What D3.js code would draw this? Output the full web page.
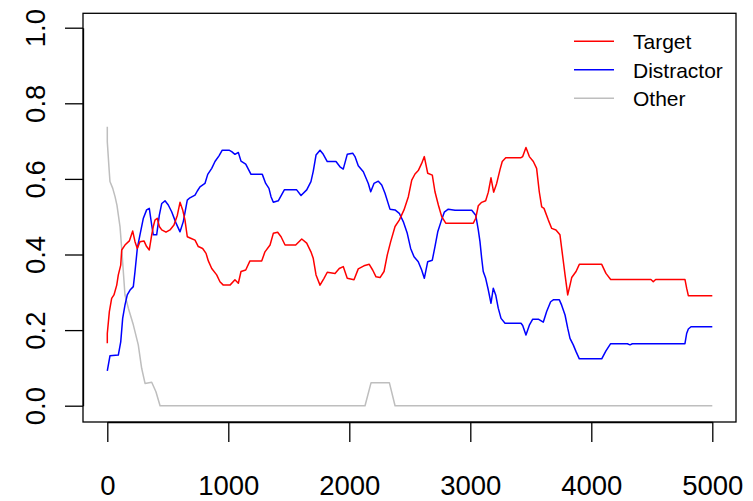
<!DOCTYPE html>
<html>
<head>
<meta charset="utf-8">
<script src="https://cdn.jsdelivr.net/npm/d3@7"></script>
<style>
  html, body { margin: 0; padding: 0; background: #fff; }
  svg { display: block; }
  text { font-family: "Liberation Sans", Arial, sans-serif; fill: #000; }
</style>
</head>
<body>
<svg id="chart" width="753" height="501"></svg>
<script>
// Proportion of looks to each picture over time (ms)
const targetTime = [0,0,17,36,55,78,91,111,119,146,182,210,229,248,270,303,325,347,367,380,394,413,430,450,485,518,551,579,601,623,642,661,689,725,752,788,816,835,863,904,931,959,1014,1055,1083,1105,1144,1179,1276,1303,1345,1372,1408,1436,1469,1557,1607,1648,1683,1702,1725,1758,1791,1818,1882,1917,1950,1983,2039,2074,2121,2165,2193,2221,2254,2287,2314,2342,2378,2413,2452,2488,2516,2543,2570,2598,2620,2648,2686,2708,2736,2764,2797,3025,3045,3066,3094,3127,3149,3171,3193,3218,3245,3264,3293,3419,3433,3460,3488,3521,3548,3570,3590,3609,3645,3673,3708,3741,3764,3783,3805,3824,3838,3874,3901,4086,4121,4160,4493,4512,4532,4774,4788,4802,5000];
const targetValue = [0.165,0.191,0.249,0.284,0.293,0.319,0.346,0.372,0.412,0.425,0.436,0.462,0.434,0.416,0.434,0.436,0.421,0.412,0.452,0.474,0.491,0.496,0.474,0.465,0.459,0.465,0.478,0.504,0.538,0.518,0.491,0.447,0.443,0.438,0.421,0.416,0.403,0.383,0.363,0.346,0.328,0.319,0.319,0.333,0.324,0.355,0.359,0.383,0.383,0.407,0.425,0.456,0.459,0.447,0.425,0.425,0.441,0.430,0.407,0.390,0.346,0.319,0.337,0.353,0.350,0.363,0.368,0.337,0.333,0.362,0.370,0.374,0.359,0.341,0.339,0.355,0.399,0.434,0.474,0.491,0.518,0.553,0.597,0.613,0.622,0.641,0.659,0.615,0.610,0.566,0.531,0.500,0.483,0.483,0.496,0.529,0.538,0.542,0.565,0.603,0.565,0.588,0.624,0.646,0.656,0.656,0.659,0.683,0.659,0.646,0.628,0.566,0.526,0.522,0.491,0.469,0.465,0.452,0.394,0.346,0.293,0.319,0.339,0.355,0.374,0.374,0.350,0.334,0.334,0.328,0.334,0.334,0.311,0.291,0.291];

const distractorTime = [0,22,91,111,127,146,165,188,215,229,248,270,298,325,347,367,380,408,430,450,477,504,532,568,601,628,661,683,725,744,766,807,830,863,890,923,950,1006,1028,1055,1083,1105,1144,1188,1281,1309,1336,1353,1372,1413,1463,1565,1601,1648,1683,1702,1725,1758,1785,1818,1890,1923,1950,1983,2028,2047,2074,2116,2157,2177,2204,2240,2268,2295,2336,2378,2413,2446,2479,2507,2535,2570,2598,2620,2648,2686,2708,2731,2758,2785,2818,2874,3012,3045,3066,3080,3094,3107,3127,3149,3171,3190,3210,3231,3254,3287,3419,3433,3460,3488,3516,3562,3603,3631,3664,3686,3736,3755,3783,3805,3824,3851,3874,3901,4086,4121,4160,4298,4320,4339,4774,4788,4802,4824,5000];
const distractorValue = [0.092,0.132,0.134,0.169,0.231,0.266,0.293,0.306,0.315,0.355,0.416,0.452,0.496,0.518,0.522,0.478,0.452,0.452,0.504,0.535,0.542,0.531,0.513,0.483,0.460,0.487,0.544,0.550,0.557,0.568,0.579,0.588,0.612,0.628,0.646,0.661,0.676,0.676,0.672,0.665,0.670,0.647,0.639,0.612,0.612,0.588,0.575,0.553,0.538,0.542,0.571,0.571,0.556,0.571,0.593,0.620,0.663,0.676,0.665,0.646,0.646,0.632,0.626,0.665,0.668,0.659,0.635,0.619,0.588,0.566,0.588,0.594,0.584,0.562,0.520,0.518,0.509,0.487,0.456,0.416,0.394,0.381,0.359,0.337,0.381,0.385,0.421,0.460,0.487,0.512,0.520,0.517,0.517,0.504,0.465,0.434,0.390,0.355,0.337,0.306,0.271,0.311,0.293,0.258,0.231,0.218,0.218,0.212,0.187,0.213,0.229,0.229,0.221,0.249,0.275,0.280,0.280,0.266,0.240,0.205,0.178,0.161,0.143,0.124,0.124,0.145,0.164,0.164,0.161,0.164,0.164,0.191,0.203,0.209,0.209];

const otherTime = [0,0,15,22,45,64,80,105,119,146,174,215,256,284,312,367,402,436,2130,2180,2331,2378,5000];
const otherValue = [0.738,0.698,0.625,0.593,0.575,0.553,0.530,0.474,0.416,0.293,0.258,0.214,0.161,0.099,0.059,0.062,0.037,0,0,0.061,0.061,0,0];

const seriesNames = ["Target", "Distractor", "Other"];
const seriesColors = ["#ff0000", "#0000ff", "#bebebe"];
const xTicks = [0, 1000, 2000, 3000, 4000, 5000];
const yTicks = [0, 0.2, 0.4, 0.6, 0.8, 1.0];

const series = [
  { name: seriesNames[0], color: seriesColors[0], pts: targetTime.map((t, i) => [t, targetValue[i]]) },
  { name: seriesNames[1], color: seriesColors[1], pts: distractorTime.map((t, i) => [t, distractorValue[i]]) },
  { name: seriesNames[2], color: seriesColors[2], pts: otherTime.map((t, i) => [t, otherValue[i]]) }
];

const svg = d3.select("#chart");
const box = { left: 83, top: 13.3, right: 736, bottom: 422 };

const x = d3.scaleLinear().domain([0, 5000]).range([107.3, 712.3]);
const y = d3.scaleLinear().domain([0, 1]).range([405.7, 27.7]);

// Series lines (Other drawn first, Target on top)
const line = d3.line().x(d => x(d[0])).y(d => y(d[1]));
svg.append("g").selectAll("path")
  .data(series.slice().reverse())
  .join("path")
  .attr("d", d => line(d.pts))
  .attr("fill", "none")
  .attr("stroke", d => d.color)
  .attr("stroke-width", 1.5)
  .attr("stroke-linejoin", "round");

// Plot frame
svg.append("rect")
  .attr("x", box.left).attr("y", box.top)
  .attr("width", box.right - box.left).attr("height", box.bottom - box.top)
  .attr("fill", "none").attr("stroke", "#000").attr("stroke-width", 1.3);

// Y axis with rotated labels
const yAxis = svg.append("g")
  .attr("transform", `translate(${box.left},0)`)
  .call(d3.axisLeft(y).tickValues(yTicks).tickFormat(d3.format(".1f")).tickSize(18).tickSizeOuter(0));
yAxis.selectAll("path, line").attr("stroke", "#000").attr("stroke-width", 1.3);
yAxis.selectAll("text")
  .attr("x", null).attr("dy", null)
  .attr("transform", "translate(-38,0) rotate(-90)")
  .attr("text-anchor", "middle")
  .style("font-family", '"Liberation Sans", Arial, sans-serif')
  .style("font-size", "27.5px")
  .attr("fill", "#000");

// X axis
const xAxis = svg.append("g")
  .attr("transform", `translate(0,${box.bottom})`)
  .call(d3.axisBottom(x).tickValues(xTicks).tickFormat(d3.format("d")).tickSize(20).tickSizeOuter(0));
xAxis.selectAll("path, line").attr("stroke", "#000").attr("stroke-width", 1.3);
xAxis.selectAll("text")
  .attr("y", 73).attr("dy", null)
  .attr("text-anchor", "middle")
  .style("font-family", '"Liberation Sans", Arial, sans-serif')
  .style("font-size", "27.5px")
  .attr("fill", "#000");

// Legend
const legend = svg.append("g");
const legendItems = legend.selectAll("g")
  .data(series)
  .join("g")
  .attr("transform", (d, i) => `translate(574,${41.3 + i * 28.5})`);
legendItems.append("line")
  .attr("x1", 0).attr("x2", 40).attr("y1", 0).attr("y2", 0)
  .attr("stroke", d => d.color).attr("stroke-width", 1.5);
legendItems.append("text")
  .attr("x", 59).attr("y", 8)
  .style("font-size", "21px")
  .text(d => d.name);
</script>
</body>
</html>
